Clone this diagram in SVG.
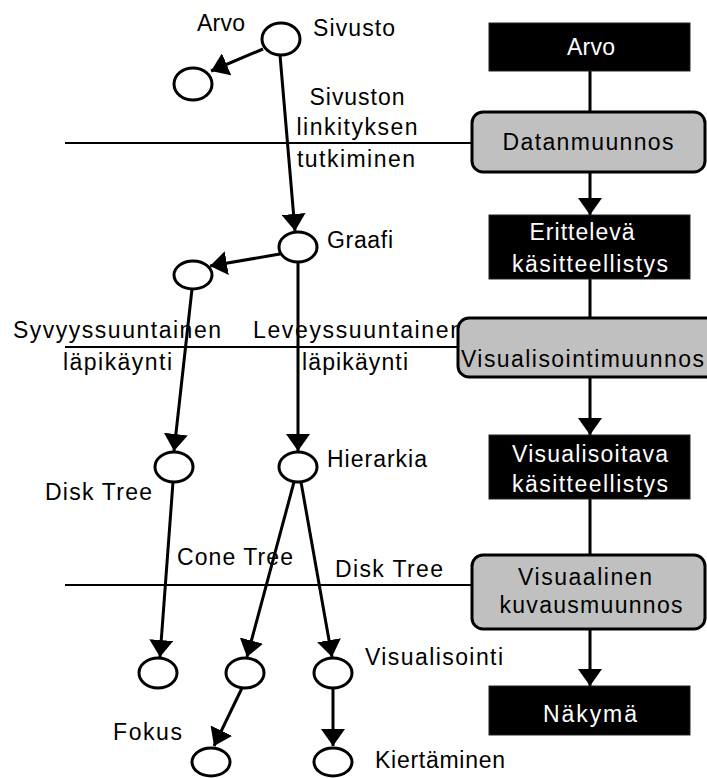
<svg xmlns="http://www.w3.org/2000/svg" width="707" height="778" viewBox="0 0 707 778">
<defs>
<style>
text{font-family:"Liberation Sans",Arial,sans-serif;font-size:23px;fill:#000}
.w{fill:#fff}
.n{fill:#fff;stroke:#000;stroke-width:3}
.blk{fill:#000;stroke:#222;stroke-width:1}
.gr{fill:#c0c0c0;stroke:#000;stroke-width:3}
.e{stroke:#000;stroke-width:3;fill:none}
.h{stroke:#000;stroke-width:2;fill:none}
</style>
<marker id="ah" markerUnits="userSpaceOnUse" viewBox="0 0 17 24" refX="17" refY="12" markerWidth="17" markerHeight="24" orient="auto">
<path d="M0,0 L17,12 L0,24 z" fill="#000"/>
</marker>
</defs>
<rect width="707" height="778" fill="#fff"/>
<g id="connectors">
<line class="h" x1="65" y1="143" x2="472" y2="143"/>
<line class="h" x1="65" y1="347" x2="460" y2="347"/>
<line class="h" x1="65" y1="585" x2="472" y2="585"/>
<line class="e" x1="263" y1="49" x2="211" y2="71" marker-end="url(#ah)"/>
<line class="e" x1="280" y1="55" x2="295" y2="231" marker-end="url(#ah)"/>
<line class="e" x1="280" y1="254" x2="210" y2="266" marker-end="url(#ah)"/>
<line class="e" x1="298" y1="262" x2="298" y2="451" marker-end="url(#ah)"/>
<line class="e" x1="192" y1="289" x2="174" y2="451" marker-end="url(#ah)"/>
<line class="e" x1="294" y1="482" x2="247" y2="657" marker-end="url(#ah)"/>
<line class="e" x1="301" y1="482" x2="332" y2="657" marker-end="url(#ah)"/>
<line class="e" x1="173" y1="482" x2="160" y2="657" marker-end="url(#ah)"/>
<line class="e" x1="242" y1="688" x2="214" y2="746" marker-end="url(#ah)"/>
<line class="e" x1="333" y1="689" x2="333" y2="746" marker-end="url(#ah)"/>
<line class="e" x1="590" y1="71" x2="590" y2="112"/>
<line class="e" x1="590" y1="172" x2="590" y2="215" marker-end="url(#ah)"/>
<line class="e" x1="590" y1="279" x2="590" y2="318"/>
<line class="e" x1="590" y1="377" x2="590" y2="435" marker-end="url(#ah)"/>
<line class="e" x1="590" y1="499" x2="590" y2="555"/>
<line class="e" x1="590" y1="629" x2="590" y2="686" marker-end="url(#ah)"/>
</g>
<g id="labels">
<text x="357" y="105" text-anchor="middle" textLength="95" lengthAdjust="spacing">Sivuston</text>
<text x="357" y="135" text-anchor="middle" textLength="121" lengthAdjust="spacing">linkityksen</text>
<text x="356" y="167" text-anchor="middle" textLength="118" lengthAdjust="spacing">tutkiminen</text>
<text x="13" y="338" textLength="208" lengthAdjust="spacing">Syvyyssuuntainen</text>
<text x="63" y="370" textLength="109" lengthAdjust="spacing">läpikäynti</text>
<text x="253" y="338" textLength="210" lengthAdjust="spacing">Leveyssuuntainen</text>
<text x="302" y="370" textLength="106" lengthAdjust="spacing">läpikäynti</text>
<text x="45" y="500" textLength="107" lengthAdjust="spacing">Disk Tree</text>
<text x="177" y="565" textLength="116" lengthAdjust="spacing">Cone Tree</text>
<text x="335" y="577" textLength="108" lengthAdjust="spacing">Disk Tree</text>
<text x="113" y="740" textLength="69" lengthAdjust="spacing">Fokus</text>
</g>
<g id="n-sivusto"><ellipse class="n" cx="281" cy="39" rx="19" ry="16"/><text x="313" y="36" textLength="82" lengthAdjust="spacing">Sivusto</text></g>
<g id="n-arvo"><ellipse class="n" cx="193" cy="84" rx="19" ry="16"/><text x="197" y="31" textLength="48" lengthAdjust="spacing">Arvo</text></g>
<g id="n-graafi"><ellipse class="n" cx="298" cy="247" rx="19" ry="15"/><text x="327" y="248" textLength="66" lengthAdjust="spacing">Graafi</text></g>
<g id="n-syvyys"><ellipse class="n" cx="193" cy="275" rx="19" ry="14"/></g>
<g id="n-disktree"><ellipse class="n" cx="174" cy="467" rx="19" ry="15"/></g>
<g id="n-hierarkia"><ellipse class="n" cx="298" cy="467" rx="19" ry="15"/><text x="327" y="467" textLength="100" lengthAdjust="spacing">Hierarkia</text></g>
<g id="n-a"><ellipse class="n" cx="158" cy="673" rx="19" ry="15"/></g>
<g id="n-b"><ellipse class="n" cx="245" cy="673" rx="19" ry="15"/></g>
<g id="n-visualisointi"><ellipse class="n" cx="333" cy="673" rx="19" ry="15"/><text x="365" y="665" textLength="138" lengthAdjust="spacing">Visualisointi</text></g>
<g id="n-fokus"><ellipse class="n" cx="211" cy="762" rx="19" ry="14"/></g>
<g id="n-kiertaminen"><ellipse class="n" cx="333" cy="762" rx="19" ry="14"/><text x="375" y="768" textLength="130" lengthAdjust="spacing">Kiertäminen</text></g>
<g id="b-arvo"><rect class="blk" x="489" y="23" width="201" height="48"/><text class="w" x="591" y="55" text-anchor="middle" textLength="48" lengthAdjust="spacing">Arvo</text></g>
<g id="b-datanmuunnos"><rect class="gr" x="472" y="112" width="233" height="60" rx="11"/><text x="588" y="150" text-anchor="middle" textLength="171" lengthAdjust="spacing">Datanmuunnos</text></g>
<g id="b-erittelevä"><rect class="blk" x="489" y="215" width="201" height="64"/><text class="w" x="582" y="240" text-anchor="middle" textLength="105" lengthAdjust="spacing">Erittelevä</text><text class="w" x="590" y="272" text-anchor="middle" textLength="156" lengthAdjust="spacing">käsitteellistys</text></g>
<g id="b-visualisointimuunnos"><rect class="gr" x="458" y="318" width="262" height="59" rx="11"/><text x="461" y="367" textLength="243" lengthAdjust="spacing">Visualisointimuunnos</text></g>
<g id="b-visualisoitava"><rect class="blk" x="489" y="435" width="201" height="64"/><text class="w" x="590" y="462" text-anchor="middle" textLength="156" lengthAdjust="spacing">Visualisoitava</text><text class="w" x="590" y="492" text-anchor="middle" textLength="156" lengthAdjust="spacing">käsitteellistys</text></g>
<g id="b-visuaalinen"><rect class="gr" x="472" y="555" width="233" height="74" rx="11"/><text x="585" y="585" text-anchor="middle" textLength="134" lengthAdjust="spacing">Visuaalinen</text><text x="591" y="613" text-anchor="middle" textLength="183" lengthAdjust="spacing">kuvausmuunnos</text></g>
<g id="b-nakyma"><rect class="blk" x="489" y="686" width="201" height="49"/><text class="w" x="590" y="722" text-anchor="middle" textLength="94" lengthAdjust="spacing">Näkymä</text></g>
</svg>
